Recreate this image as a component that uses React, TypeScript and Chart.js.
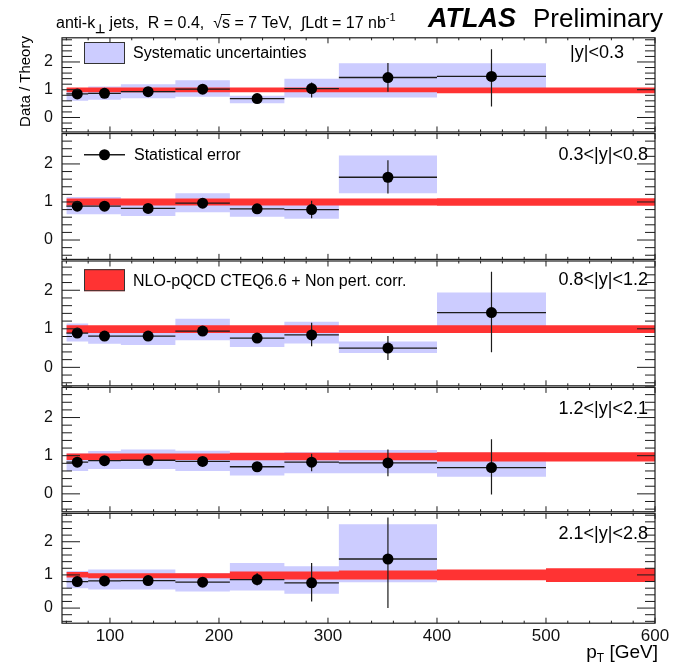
import React, { useEffect, useRef } from 'react';
import { Chart, registerables } from 'chart.js';

Chart.register(...registerables);

// ---------------- data ----------------
const BIN_EDGES = [60, 80, 110, 160, 210, 260, 310, 400, 500, 600];
const BIN_CENTERS = [70, 95, 135, 185, 235, 285, 355, 450];
const X_TICKS = [100, 200, 300, 400, 500, 600];
const Y_TICKS = [0, 1, 2];
const PANEL_LABELS = ['|y|<0.3', '0.3<|y|<0.8', '0.8<|y|<1.2', '1.2<|y|<2.1', '2.1<|y|<2.8'];

// |y| < 0.3
const RATIO_Y1 = [0.85, 0.87, 0.93, 1.02, 0.68, 1.04, 1.44, 1.48];
const STAT_LO_Y1 = [0.82, 0.84, 0.9, 0.99, 0.65, 0.72, 0.93, 0.4];
const STAT_HI_Y1 = [0.88, 0.9, 0.96, 1.05, 0.71, 1.26, 1.96, 2.46];
const SYST_LO_Y1 = [0.6, 0.64, 0.69, 0.75, 0.51, 0.72, 0.72, 0.95];
const SYST_HI_Y1 = [1.04, 1.12, 1.2, 1.34, 0.78, 1.4, 1.95, 1.95];
const THEO_LO_Y1 = [0.91, 0.91, 0.91, 0.91, 0.91, 0.91, 0.91, 0.87, 0.87];
const THEO_HI_Y1 = [1.08, 1.08, 1.08, 1.08, 1.08, 1.08, 1.08, 1.08, 1.08];

// 0.3 < |y| < 0.8
const RATIO_Y2 = [0.89, 0.89, 0.83, 0.97, 0.82, 0.8, 1.65];
const STAT_LO_Y2 = [0.86, 0.86, 0.8, 0.94, 0.79, 0.57, 1.22];
const STAT_HI_Y2 = [0.92, 0.92, 0.86, 1.0, 0.85, 1.03, 2.1];
const SYST_LO_Y2 = [0.68, 0.68, 0.63, 0.73, 0.61, 0.56, 1.23];
const SYST_HI_Y2 = [1.13, 1.13, 1.0, 1.23, 0.96, 0.94, 2.22];
const THEO_LO_Y2 = [0.91, 0.91, 0.91, 0.91, 0.91, 0.91, 0.91, 0.9, 0.9];
const THEO_HI_Y2 = [1.09, 1.09, 1.09, 1.09, 1.09, 1.09, 1.09, 1.1, 1.1];

// 0.8 < |y| < 1.2
const RATIO_Y3 = [0.89, 0.81, 0.81, 0.94, 0.76, 0.84, 0.5, 1.42];
const STAT_LO_Y3 = [0.86, 0.78, 0.78, 0.91, 0.73, 0.55, 0.19, 0.39];
const STAT_HI_Y3 = [0.92, 0.84, 0.84, 0.97, 0.79, 1.16, 0.81, 2.48];
const SYST_LO_Y3 = [0.67, 0.61, 0.58, 0.7, 0.53, 0.62, 0.37, 1.0];
const SYST_HI_Y3 = [1.14, 1.02, 0.98, 1.26, 0.94, 1.18, 0.67, 1.94];
const THEO_LO_Y3 = [0.89, 0.89, 0.89, 0.89, 0.89, 0.89, 0.89, 0.89, 0.89];
const THEO_HI_Y3 = [1.09, 1.09, 1.09, 1.09, 1.09, 1.09, 1.09, 1.09, 1.09];

// 1.2 < |y| < 2.1
const RATIO_Y4 = [0.83, 0.87, 0.88, 0.85, 0.71, 0.83, 0.81, 0.69];
const STAT_LO_Y4 = [0.8, 0.84, 0.85, 0.82, 0.68, 0.59, 0.46, -0.02];
const STAT_HI_Y4 = [0.86, 0.9, 0.91, 0.88, 0.74, 1.05, 1.16, 1.43];
const SYST_LO_Y4 = [0.6, 0.65, 0.65, 0.6, 0.48, 0.54, 0.54, 0.45];
const SYST_HI_Y4 = [1.06, 1.12, 1.16, 1.13, 0.92, 1.09, 1.15, 1.08];
const THEO_LO_Y4 = [0.89, 0.89, 0.89, 0.89, 0.88, 0.88, 0.88, 0.85, 0.85];
const THEO_HI_Y4 = [1.06, 1.06, 1.06, 1.06, 1.08, 1.08, 1.08, 1.09, 1.09];

// 2.1 < |y| < 2.8
const RATIO_Y5 = [0.8, 0.82, 0.83, 0.78, 0.86, 0.76, 1.48];
const STAT_LO_Y5 = [0.77, 0.79, 0.8, 0.75, 0.68, 0.2, 0.0];
const STAT_HI_Y5 = [0.83, 0.85, 0.86, 0.81, 1.06, 1.36, 2.73];
const SYST_LO_Y5 = [0.6, 0.56, 0.56, 0.5, 0.53, 0.43, 0.78];
const SYST_HI_Y5 = [1.12, 1.16, 1.16, 1.05, 1.36, 1.26, 2.53];
const THEO_LO_Y5 = [0.92, 0.9, 0.9, 0.9, 0.86, 0.86, 0.86, 0.84, 0.79];
const THEO_HI_Y5 = [1.09, 1.05, 1.05, 1.05, 1.1, 1.1, 1.13, 1.16, 1.2];

const PANELS = [
  { label: PANEL_LABELS[0], ratio: RATIO_Y1, statLo: STAT_LO_Y1, statHi: STAT_HI_Y1, systLo: SYST_LO_Y1, systHi: SYST_HI_Y1, theoLo: THEO_LO_Y1, theoHi: THEO_HI_Y1 },
  { label: PANEL_LABELS[1], ratio: RATIO_Y2, statLo: STAT_LO_Y2, statHi: STAT_HI_Y2, systLo: SYST_LO_Y2, systHi: SYST_HI_Y2, theoLo: THEO_LO_Y2, theoHi: THEO_HI_Y2 },
  { label: PANEL_LABELS[2], ratio: RATIO_Y3, statLo: STAT_LO_Y3, statHi: STAT_HI_Y3, systLo: SYST_LO_Y3, systHi: SYST_HI_Y3, theoLo: THEO_LO_Y3, theoHi: THEO_HI_Y3 },
  { label: PANEL_LABELS[3], ratio: RATIO_Y4, statLo: STAT_LO_Y4, statHi: STAT_HI_Y4, systLo: SYST_LO_Y4, systHi: SYST_HI_Y4, theoLo: THEO_LO_Y4, theoHi: THEO_HI_Y4 },
  { label: PANEL_LABELS[4], ratio: RATIO_Y5, statLo: STAT_LO_Y5, statHi: STAT_HI_Y5, systLo: SYST_LO_Y5, systHi: SYST_HI_Y5, theoLo: THEO_LO_Y5, theoHi: THEO_HI_Y5 },
];

// ---------------- layout / style ----------------
const W = 673;
const H = 664;
const FONT = '"Liberation Sans", Arial, Helvetica, sans-serif';
const X_MIN = 56;
const X_MAX = 600;
const PANEL_WEIGHTS = [95.8, 127.5, 126.5, 126, 111.5];
const Y_MIN = [-0.55, -0.53, -0.5, -0.49, -0.48];
const Y_MAX = [2.9, 2.82, 2.78, 2.81, 2.88];
const LABEL_OFFSET = [16, 22, 20, 22, 21];
const LABEL_RIGHT = [624, 648, 648, 648, 648];
const SYST_COLOR = '#ccccff';
const THEO_COLOR = '#ff3333';
const INK = '#1c1c1c';
const CLEAR = 'rgba(0,0,0,0)';

function stepBand(vals: number[]) {
  const pts = vals.map((v, i) => ({ x: BIN_EDGES[i], y: v }));
  pts.push({ x: BIN_EDGES[vals.length], y: vals[vals.length - 1] });
  return pts;
}

function hBars(vals: number[]) {
  const pts: any[] = [];
  vals.forEach((v, i) => {
    pts.push({ x: BIN_EDGES[i], y: v }, { x: BIN_EDGES[i + 1], y: v }, { x: BIN_EDGES[i + 1], y: null });
  });
  return pts;
}

function vBars(lo: number[], hi: number[]) {
  const pts: any[] = [];
  lo.forEach((l, i) => {
    pts.push({ x: BIN_CENTERS[i], y: l }, { x: BIN_CENTERS[i], y: hi[i] }, { x: BIN_CENTERS[i], y: null });
  });
  return pts;
}

const decorPlugin = {
  id: 'atlasDecor',
  afterDraw(chart: any) {
    const ctx: CanvasRenderingContext2D = chart.ctx;
    const xs = chart.scales.x;
    ctx.save();
    const seg = (x1: number, y1: number, x2: number, y2: number) => {
      ctx.beginPath();
      ctx.moveTo(x1, y1);
      ctx.lineTo(x2, y2);
      ctx.stroke();
    };
    PANELS.forEach((p, i) => {
      const ys = chart.scales['y' + i];
      const top = ys.top + 0.8;
      const bottom = ys.bottom - 0.8;
      ctx.strokeStyle = INK;
      ctx.lineWidth = 1.2;
      ctx.strokeRect(xs.left, top, xs.right - xs.left, bottom - top);
      ctx.lineWidth = 1;
      // y ticks (both sides)
      for (let k = Math.ceil(ys.min * 5); k <= Math.floor(ys.max * 5); k++) {
        const py = ys.getPixelForValue(k / 5);
        const len = k % 5 === 0 ? 18 : 10;
        seg(xs.left, py, xs.left + len, py);
        seg(xs.right, py, xs.right - len, py);
      }
      // x ticks (top and bottom)
      for (let v = 60; v <= 600; v += 20) {
        const px = xs.getPixelForValue(v);
        const len = v % 100 === 0 ? 5.5 : 2.5;
        seg(px, bottom, px, bottom - len);
        seg(px, top, px, top + len);
      }
      // panel label
      const ly = ys.top + LABEL_OFFSET[i];
      ctx.fillStyle = '#000';
      ctx.font = `18px ${FONT}`;
      ctx.textAlign = 'right';
      ctx.textBaseline = 'middle';
      ctx.fillText(p.label, LABEL_RIGHT[i], ly);
      // legend entries
      ctx.textAlign = 'left';
      ctx.font = `16px ${FONT}`;
      if (i === 0 || i === 2) {
        ctx.fillStyle = i === 0 ? SYST_COLOR : THEO_COLOR;
        ctx.fillRect(84, ly - 11, 41, 22);
        ctx.strokeStyle = '#333';
        ctx.lineWidth = 1;
        ctx.strokeRect(84.5, ly - 10.5, 40, 21);
        ctx.fillStyle = '#000';
        ctx.fillText(i === 0 ? 'Systematic uncertainties' : 'NLO-pQCD CTEQ6.6 + Non pert. corr.', 133, ly + 1);
      } else if (i === 1) {
        ctx.strokeStyle = INK;
        ctx.lineWidth = 1.3;
        seg(84, ly, 125, ly);
        ctx.fillStyle = '#000';
        ctx.beginPath();
        ctx.arc(104.5, ly, 5.5, 0, Math.PI * 2);
        ctx.fill();
        ctx.fillText('Statistical error', 134, ly + 1);
      }
    });

    // header text
    ctx.fillStyle = '#000';
    ctx.textAlign = 'left';
    ctx.textBaseline = 'alphabetic';
    let x = 56;
    const base = 28;
    const put = (t: string, font: string, dy = 0) => {
      ctx.font = font;
      ctx.fillText(t, x, base + dy);
      const w = ctx.measureText(t).width;
      x += w;
      return w;
    };
    const F16 = `16px ${FONT}`;
    put('anti-k', F16);
    put('\u22A5', `bold 12px ${FONT}`, 5);
    put(' jets,  R = 0.4,  ', F16);
    put('\u221A', F16);
    const sx = x;
    const sw = put('s', F16);
    ctx.strokeStyle = '#000';
    ctx.lineWidth = 1;
    seg(sx - 1, base - 13.5, sx + sw + 0.5, base - 13.5);
    put(' = 7 TeV,  ', F16);
    put('\u222B', F16);
    put('Ldt = 17 nb', F16);
    put('-1', `11px ${FONT}`, -7);

    ctx.font = `italic bold 27px ${FONT}`;
    ctx.fillText('ATLAS', 428, 27);
    ctx.font = `26px ${FONT}`;
    ctx.textAlign = 'right';
    ctx.fillText('Preliminary', 663, 27);

    // y title
    ctx.save();
    ctx.translate(29.5, 81.5);
    ctx.rotate(-Math.PI / 2);
    ctx.textAlign = 'center';
    ctx.font = `15px ${FONT}`;
    ctx.fillText('Data / Theory', 0, 0);
    ctx.restore();

    // x title
    ctx.textAlign = 'left';
    const fMain = `19px ${FONT}`;
    const fSub = `12px ${FONT}`;
    ctx.font = fMain;
    const wp = ctx.measureText('p').width;
    const wr = ctx.measureText(' [GeV]').width;
    ctx.font = fSub;
    const wt = ctx.measureText('T').width;
    x = 658 - (wp + wt + wr);
    const xb = 658;
    ctx.font = fMain;
    ctx.fillText('p', x, xb);
    ctx.font = fSub;
    ctx.fillText('T', x + wp, xb + 4);
    ctx.font = fMain;
    ctx.fillText(' [GeV]', x + wp + wt, xb);
    ctx.restore();
  },
};

export default function App() {
  const ref = useRef<HTMLCanvasElement>(null);
  useEffect(() => {
    const canvas = ref.current;
    if (!canvas) return;
    const datasets: any[] = [];
    const scales: any = {
      x: {
        type: 'linear',
        position: 'bottom',
        min: X_MIN,
        max: X_MAX,
        grid: { display: false, drawTicks: false },
        border: { display: false },
        afterFit: (s: any) => {
          s.height = 40;
        },
        afterBuildTicks: (s: any) => {
          s.ticks = X_TICKS.map((v) => ({ value: v }));
        },
        ticks: { font: { family: FONT, size: 17 }, color: '#111', padding: 2, maxRotation: 0, autoSkip: false },
      },
    };
    PANELS.forEach((p, i) => {
      const id = 'y' + i;
      scales[id] = {
        type: 'linear',
        position: 'left',
        stack: 'panels',
        stackWeight: PANEL_WEIGHTS[i],
        weight: PANELS.length - i,
        min: Y_MIN[i],
        max: Y_MAX[i],
        grid: { display: false, drawTicks: false },
        border: { display: false },
        afterFit: (s: any) => {
          s.width = 62;
        },
        afterBuildTicks: (s: any) => {
          s.ticks = Y_TICKS.map((v) => ({ value: v }));
        },
        ticks: { font: { family: FONT, size: 16 }, color: '#111', padding: 9, autoSkip: false },
      };
      const common = { xAxisID: 'x', yAxisID: id, pointRadius: 0, tension: 0 };
      datasets.push({ ...common, data: stepBand(p.systHi), stepped: true, fill: '+1', backgroundColor: SYST_COLOR, borderColor: CLEAR, borderWidth: 0, order: 4 });
      datasets.push({ ...common, data: stepBand(p.systLo), stepped: true, fill: false, borderColor: CLEAR, borderWidth: 0, order: 4 });
      datasets.push({ ...common, data: stepBand(p.theoHi), stepped: true, fill: '+1', backgroundColor: THEO_COLOR, borderColor: CLEAR, borderWidth: 0, order: 3 });
      datasets.push({ ...common, data: stepBand(p.theoLo), stepped: true, fill: false, borderColor: CLEAR, borderWidth: 0, order: 3 });
      datasets.push({ ...common, data: hBars(p.ratio), fill: false, spanGaps: false, borderColor: INK, borderWidth: 1.3, order: 2 });
      datasets.push({ ...common, data: vBars(p.statLo, p.statHi), fill: false, spanGaps: false, borderColor: INK, borderWidth: 1.2, order: 1 });
      datasets.push({
        ...common,
        data: p.ratio.map((r, k) => ({ x: BIN_CENTERS[k], y: r })),
        showLine: false,
        pointRadius: 5.5,
        pointBackgroundColor: '#000',
        pointBorderColor: '#000',
        pointBorderWidth: 0,
        order: 0,
      });
    });

    const chart = new Chart(canvas, {
      type: 'line',
      data: { datasets },
      options: {
        responsive: false,
        maintainAspectRatio: false,
        animation: false,
        events: [],
        layout: { padding: { top: 37, right: 18, left: 0, bottom: 0 } },
        plugins: { legend: { display: false }, tooltip: { enabled: false } },
        scales,
      } as any,
      plugins: [decorPlugin],
    });
    return () => chart.destroy();
  }, []);

  return (
    <div style={{ position: 'fixed', left: 0, top: 0, width: W, height: H, background: '#fff' }}>
      <canvas ref={ref} width={W} height={H} style={{ display: 'block', width: W, height: H }} />
    </div>
  );
}
